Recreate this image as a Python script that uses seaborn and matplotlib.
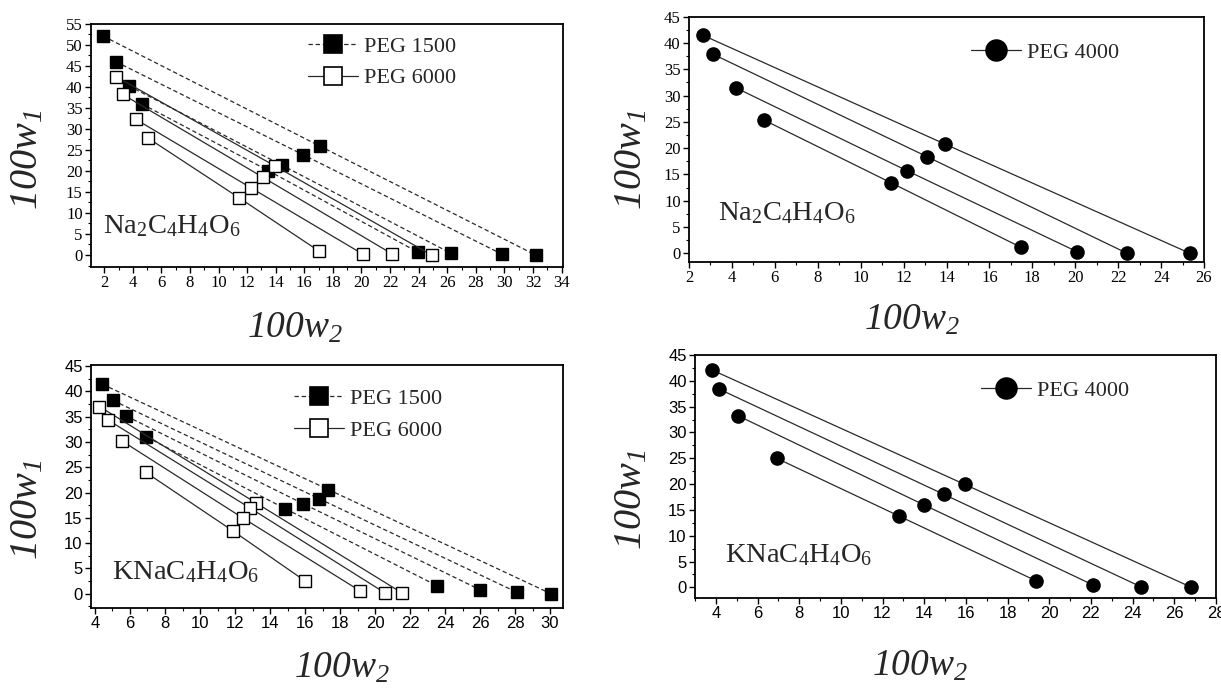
import matplotlib
matplotlib.use("Agg")
import matplotlib.pyplot as plt
import pandas as pd
import seaborn as sns
from matplotlib.lines import Line2D
from matplotlib.ticker import MultipleLocator

# ---------------- data (each tie-line: top phase, feed, bottom phase) ----------------
# Panel (a): Na2C4H4O6
na_peg1500_x = [[1.93, 17.07, 32.18], [2.82, 15.90, 29.85], [3.70, 14.45, 26.26], [4.64, 13.47, 23.97]]
na_peg1500_y = [[52.1, 25.95, 0.0], [46.0, 23.9, 0.16], [40.3, 21.35, 0.4], [35.95, 20.1, 0.63]]
na_peg6000_x = [[2.82, 13.94, 24.90], [3.28, 13.10, 22.15], [4.21, 12.26, 20.08], [5.08, 11.42, 17.04]]
na_peg6000_y = [[42.46, 21.2, 0.0], [38.25, 18.5, 0.24], [32.3, 16.0, 0.24], [27.8, 13.65, 0.9]]
# Panel (b): Na2C4H4O6, PEG 4000
na_peg4000_x = [[2.63, 13.91, 25.34], [3.10, 13.08, 22.41], [4.17, 12.16, 20.07], [5.49, 11.42, 17.46]]
na_peg4000_y = [[41.5, 20.8, 0.0], [37.9, 18.4, 0.0], [31.5, 15.7, 0.32], [25.35, 13.4, 1.15]]
# Panel (c): KNaC4H4O6
kna_peg1500_x = [[4.42, 17.33, 30.06], [5.03, 16.80, 28.13], [5.79, 15.89, 26.00], [6.93, 14.88, 23.54]]
kna_peg1500_y = [[41.4, 20.6, 0.0], [38.2, 18.8, 0.26], [35.1, 17.8, 0.8], [31.0, 16.8, 1.6]]
kna_peg6000_x = [[4.25, 13.18, 21.56], [4.76, 12.88, 20.59], [5.54, 12.48, 19.14], [6.90, 11.89, 16.02]]
kna_peg6000_y = [[37.0, 18.0, 0.13], [34.3, 16.9, 0.13], [30.2, 14.9, 0.59], [24.0, 12.4, 2.5]]
# Panel (d): KNaC4H4O6, PEG 4000
kna_peg4000_x = [[3.82, 15.94, 26.79], [4.16, 14.95, 24.42], [5.06, 14.00, 22.11], [6.92, 12.80, 19.35]]
kna_peg4000_y = [[42.1, 19.95, 0.07], [38.4, 18.0, 0.07], [33.25, 15.95, 0.45], [25.0, 13.8, 1.3]]

salt_labels = [r"Na$_{2}$C$_{4}$H$_{4}$O$_{6}$", r"KNaC$_{4}$H$_{4}$O$_{6}$"]
legend_labels = ["PEG 1500", "PEG 6000", "PEG 4000"]
xticks_a = list(range(2, 35, 2))
xticks_b = list(range(2, 27, 2))
xticks_c = list(range(4, 31, 2))
xticks_d = list(range(4, 29, 2))
yticks_a = list(range(0, 56, 5))
yticks_bcd = list(range(0, 46, 5))

# ---------------- style ----------------
sns.set_theme(style="ticks")
plt.rcParams.update({
    "font.family": ["Liberation Serif", "DejaVu Serif"],
    "mathtext.fontset": "custom",
    "mathtext.rm": "Liberation Serif",
    "mathtext.it": "Liberation Serif:italic",
    "mathtext.sf": "Liberation Serif:italic",
    "mathtext.bf": "Liberation Serif:bold",
    "axes.linewidth": 1.3,
    "axes.edgecolor": "black",
    "xtick.direction": "out",
    "ytick.direction": "out",
    "xtick.major.size": 4,
    "ytick.major.size": 4,
    "xtick.minor.size": 2.2,
    "ytick.minor.size": 2.2,
    "xtick.major.width": 1.0,
    "ytick.major.width": 1.0,
    "xtick.minor.width": 0.8,
    "ytick.minor.width": 0.8,
    "xtick.color": "black",
    "ytick.color": "black",
})

LINE = "#2a2a2a"
DASH = (0, (3.5, 2.2))


def tie_df(xs, ys):
    rows = []
    for i, (xx, yy) in enumerate(zip(xs, ys)):
        for x, y in zip(xx, yy):
            rows.append({"x": x, "y": y, "tie": i})
    return pd.DataFrame(rows)


def draw(ax, xs, ys, ls, marker, ms, face):
    sns.lineplot(data=tie_df(xs, ys), x="x", y="y", units="tie", estimator=None,
                 sort=False, ax=ax, color=LINE, linewidth=0.9, linestyle=ls,
                 marker=marker, markersize=ms, markerfacecolor=face,
                 markeredgecolor="black", markeredgewidth=1.0, legend=False)


fig = plt.figure(figsize=(12.21, 6.93), dpi=100)
ax_a = fig.add_axes([0.0745, 0.6147, 0.3866, 0.3507])
ax_b = fig.add_axes([0.5643, 0.6224, 0.4218, 0.3535])
ax_c = fig.add_axes([0.0745, 0.1227, 0.3866, 0.3506])
ax_d = fig.add_axes([0.5692, 0.1375, 0.4267, 0.3502])

draw(ax_a, na_peg1500_x, na_peg1500_y, DASH, "s", 8.5, "black")
draw(ax_a, na_peg6000_x, na_peg6000_y, "-", "s", 8.0, "white")
draw(ax_b, na_peg4000_x, na_peg4000_y, "-", "o", 9.5, "black")
draw(ax_c, kna_peg1500_x, kna_peg1500_y, DASH, "s", 8.5, "black")
draw(ax_c, kna_peg6000_x, kna_peg6000_y, "-", "s", 8.0, "white")
draw(ax_d, kna_peg4000_x, kna_peg4000_y, "-", "o", 9.5, "black")

cfg = [
    (ax_a, (1.07, 34.1), (-2.86, 55), xticks_a, yticks_a, "serif", 12),
    (ax_b, (2, 26), (-1.6, 45), xticks_b, yticks_bcd, "serif", 12),
    (ax_c, (3.77, 30.74), (-2.8, 45.2), xticks_c, yticks_bcd, "sans", 12),
    (ax_d, (3.0, 28), (-2.0, 45), xticks_d, yticks_bcd, "sans", 12),
]
for ax, xl, yl, xt, yt, fam, fs in cfg:
    ax.set_xlim(*xl)
    ax.set_ylim(*yl)
    ax.set_xticks(xt)
    ax.set_yticks(yt)
    ax.xaxis.set_minor_locator(MultipleLocator(1))
    ax.yaxis.set_minor_locator(MultipleLocator(2.5))
    ax.set_xlabel("")
    ax.set_ylabel("")
    family = ["Liberation Serif"] if fam == "serif" else ["Liberation Sans"]
    for lab in ax.get_xticklabels() + ax.get_yticklabels():
        lab.set_fontfamily(family)
        lab.set_fontsize(fs)
    ax.tick_params(axis="both", pad=2)
    for s in ax.spines.values():
        s.set_visible(True)

# salt annotations
ax_a.text(0.025, 0.14, salt_labels[0], transform=ax_a.transAxes, fontsize=20.5, va="baseline")
ax_b.text(0.056, 0.17, salt_labels[0], transform=ax_b.transAxes, fontsize=20.5, va="baseline")
ax_c.text(0.044, 0.12, salt_labels[1], transform=ax_c.transAxes, fontsize=20.5, va="baseline")
ax_d.text(0.058, 0.148, salt_labels[1], transform=ax_d.transAxes, fontsize=20.5, va="baseline")


# legends
def handle(ls, marker, face, ms):
    return Line2D([], [], color=LINE, linewidth=0.9, linestyle=ls, marker=marker,
                  markersize=ms, markerfacecolor=face, markeredgecolor="black",
                  markeredgewidth=1.2)


leg_kw = dict(frameon=False, fontsize=16, handlelength=2.25, handletextpad=0.3,
              labelspacing=0.5, borderpad=0.2, borderaxespad=0.0)
h_sq = [handle(DASH, "s", "black", 13), handle("-", "s", "white", 13)]
h_ci = [handle("-", "o", "black", 15)]
ax_a.legend(h_sq, legend_labels[:2], loc="center left", bbox_to_anchor=(0.45, 0.842), **leg_kw)
ax_c.legend(h_sq, legend_labels[:2], loc="center left", bbox_to_anchor=(0.42, 0.796), **leg_kw)
ax_b.legend(h_ci, legend_labels[2:], loc="center left", bbox_to_anchor=(0.538, 0.852), **leg_kw)
ax_d.legend(h_ci, legend_labels[2:], loc="center left", bbox_to_anchor=(0.54, 0.852), **leg_kw)

# axis labels
W, H = 1221.0, 693.0
ylab = r"$\mathsf{100w}_{\mathsf{1}}$"
xlab = r"$\mathsf{100w}_{\mathsf{2}}$"
for (px, py) in [(28, 160), (632, 160), (28, 510), (632, 500)]:
    fig.text(px / W, 1 - py / H, ylab, rotation=90, fontsize=29, ha="center", va="center")
for (px, py) in [(295, 328), (912, 320), (342, 668), (920, 666)]:
    fig.text(px / W, 1 - py / H, xlab, fontsize=27, ha="center", va="center")

fig.savefig("out.png", dpi=100, facecolor="white")
